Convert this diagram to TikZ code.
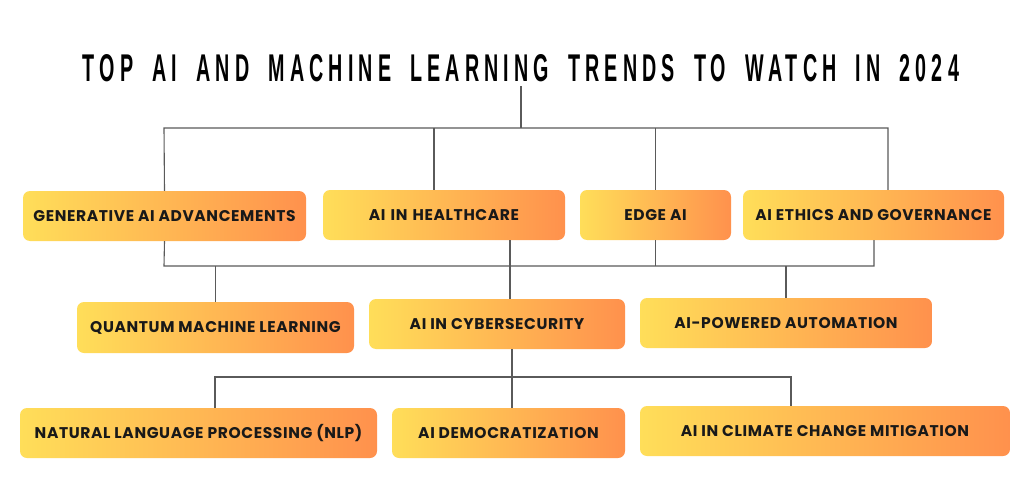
\documentclass[tikz,border=0pt]{standalone}
\usepackage{graphicx}
\usepackage{fontspec}
\newfontfamily\trendfont{Poppins}[LetterSpace=4]
\newfontfamily\titlefont{Liberation Sans}[LetterSpace=26, WordSpace=1.8]
\definecolor{trendyellow}{HTML}{FFDE59}
\definecolor{trendorange}{HTML}{FF914D}
\definecolor{linkgray}{HTML}{5A5A5A}
\begin{document}
\begin{tikzpicture}[x=1pt, y=-1pt,
	  trend/.style={rounded corners=7pt, left color=trendyellow, right color=trendorange, minimum height=50pt, inner sep=0pt, text=black!90, font=\trendfont\bfseries\fontsize{15.5}{17}\selectfont},
	  link/.style={linkgray, line width=1.1pt}]
	  \useasboundingbox[fill=white] (0,0) rectangle (1024,497);
	  \node[inner sep=0pt] (title) at (521,68.5) {\resizebox{876pt}{27pt}{\titlefont\bfseries TOP AI AND MACHINE LEARNING TRENDS TO WATCH IN 2024}};
	  % first row
	  \node[trend, minimum width=283pt] (gen) at (164.5,216) {GENERATIVE AI ADVANCEMENTS};
	  \node[trend, minimum width=242pt, text width=226pt, align=center] (health) at (444,215) {AI IN HEALTHCARE};
	  \node[trend, minimum width=151pt] (edge) at (655.5,215) {EDGE AI};
	  \node[trend, minimum width=261pt] (ethics) at (873.5,215) {AI ETHICS AND GOVERNANCE};
	  % second row
	  \node[trend, minimum width=277pt, minimum height=51pt] (quantum) at (215.5,327.5) {QUANTUM MACHINE LEARNING};
	  \node[trend, minimum width=256pt] (cyber) at (497,324) {AI IN CYBERSECURITY};
	  \node[trend, minimum width=292pt] (automation) at (786,323) {AI-POWERED AUTOMATION};
	  % third row
	  \node[trend, minimum width=357pt] (nlp) at (198.5,433) {NATURAL LANGUAGE PROCESSING (NLP)};
	  \node[trend, minimum width=233pt] (democ) at (508.5,433) {AI DEMOCRATIZATION};
	  \node[trend, minimum width=370pt] (climate) at (825,431) {AI IN CLIMATE CHANGE MITIGATION};
	  \coordinate (topleft) at (164,128);
	  \coordinate (topright) at (888,128);
	  \coordinate (midleft) at (164,266);
	  \coordinate (midright) at (874,266);
	  \coordinate (lowleft) at (215,377);
	  \coordinate (lowright) at (791,377);
	  \draw[link] ([yshift=-4pt]title.south) -- (title.south |- topleft);
	  \draw[link] (gen.north) -- (topleft) -- (topright) -- (topright |- ethics.north);
	  \draw[link] ([xshift=-10pt]health.north) -- ([xshift=-10pt]health.north |- topleft);
	  \draw[link] (edge.north) -- (edge.north |- topleft);
	  \draw[link] (gen.south) -- (midleft) -- (midright) -- (midright |- ethics.south);
	  \draw[link] (edge.south) -- (edge.south |- midleft);
	  \draw[link] ([xshift=66pt]health.south) -- ([xshift=66pt]health.south |- cyber.north);
	  \draw[link] (quantum.north) -- (quantum.north |- midleft);
	  \draw[link] (automation.north) -- (automation.north |- midleft);
	  \draw[link] (lowleft |- nlp.north) -- (lowleft) -- (lowright) -- (lowright |- climate.north);
	  \draw[link] ([xshift=15pt]cyber.south) -- ([xshift=15pt]cyber.south |- democ.north);
	\end{tikzpicture}
\end{document}
